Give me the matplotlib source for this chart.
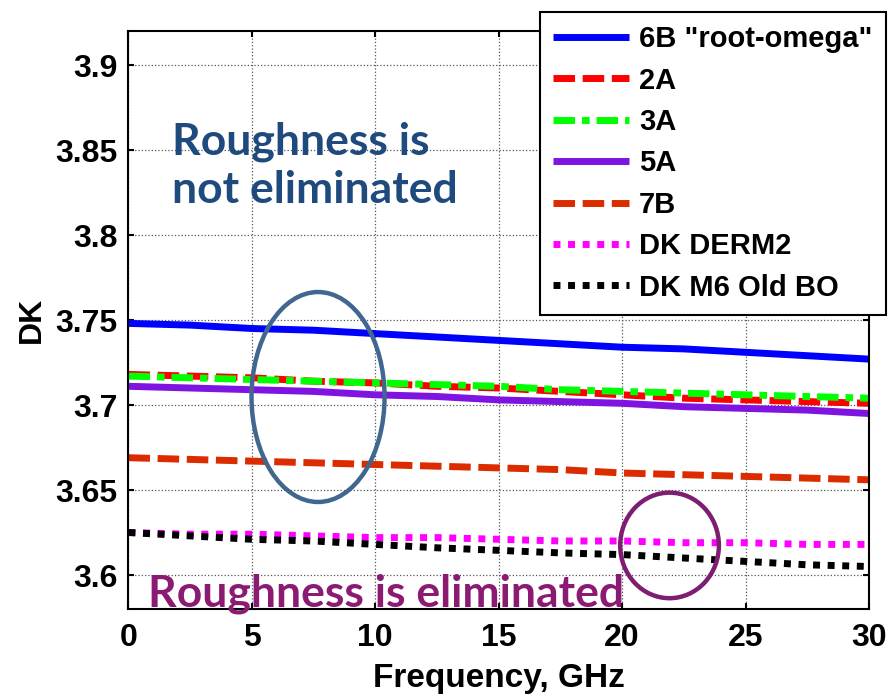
import numpy as np
import matplotlib
matplotlib.use('Agg')
from matplotlib import pyplot as plt
from matplotlib import patches as pth

# frequency, GHz
freq = [0, 2.5, 5, 7.5, 10, 12.5, 15, 17.5, 20, 22.5, 25, 27.5, 30]

dk_6b = [3.748, 3.747, 3.745, 3.744, 3.742, 3.740, 3.738, 3.736, 3.734, 3.733, 3.731, 3.729, 3.727]
dk_2a = [3.718, 3.717, 3.716, 3.714, 3.713, 3.711, 3.710, 3.708, 3.706, 3.704, 3.703, 3.702, 3.701]
dk_3a = [3.717, 3.716, 3.715, 3.714, 3.713, 3.712, 3.711, 3.709, 3.708, 3.707, 3.706, 3.705, 3.704]
dk_5a = [3.711, 3.710, 3.709, 3.708, 3.706, 3.705, 3.703, 3.702, 3.701, 3.699, 3.698, 3.697, 3.695]
dk_7b = [3.669, 3.668, 3.667, 3.666, 3.665, 3.664, 3.663, 3.662, 3.660, 3.659, 3.658, 3.657, 3.656]
dk_derm2 = [3.625, 3.624, 3.624, 3.623, 3.622, 3.622, 3.621, 3.620, 3.620, 3.619, 3.619, 3.618, 3.618]
dk_m6 = [3.625, 3.623, 3.621, 3.620, 3.618, 3.616, 3.6145, 3.613, 3.612, 3.610, 3.608, 3.606, 3.605]

labels = ['6B "root-omega"', '2A', '3A', '5A', '7B', 'DK DERM2', 'DK M6 Old BO']
xticks = [0, 5, 10, 15, 20, 25, 30]
yticks = [3.6, 3.65, 3.7, 3.75, 3.8, 3.85, 3.9]
ytick_labels = ['3.6', '3.65', '3.7', '3.75', '3.8', '3.85', '3.9']

# line styles (dash lengths in units of line width)
dash_long = (3.1, 1.1)
dash_dot = (3.1, 1.0, 1.1, 1.0)
dots = (1.0, 1.1)
series = [
    (dk_6b, '#0000ff', None),
    (dk_2a, '#ff0000', dash_long),
    (dk_3a, '#00ff00', dash_dot),
    (dk_5a, '#7f14e0', None),
    (dk_7b, '#db2c00', dash_long),
    (dk_derm2, '#ff00ff', dots),
    (dk_m6, '#000000', dots),
]

plt.rcParams['font.family'] = ['Liberation Sans', 'DejaVu Sans']
plt.rcParams['font.weight'] = 'bold'

fig = plt.figure(figsize=(8.94, 7.0), dpi=100)
ax = fig.add_axes([0.1437, 0.13, 0.8283, 0.8257])

for (vals, c, d), lab in zip(series, labels):
    ln, = ax.plot(freq, vals, color=c, lw=5, label=lab, solid_capstyle='butt',
                  dash_capstyle='butt')
    if d is not None:
        ln.set_dashes(d)

ax.set_xlim(0, 30)
ax.set_ylim(3.58, 3.92)
ax.set_xticks(xticks)
ax.set_yticks(yticks)
ax.set_xticklabels([str(t) for t in xticks])
ax.set_yticklabels(ytick_labels)
ax.tick_params(direction='in', length=4, width=1.5, top=True, right=True,
               labelsize=23, pad=8)
ax.tick_params(axis='x', pad=10)
ax.grid(True, ls=':', color='#555555', lw=0.9)
for s in ax.spines.values():
    s.set_linewidth(1.5)

ax.set_xlabel('Frequency, GHz', fontsize=24, fontweight='bold', labelpad=7)
ax.set_ylabel('DK', fontsize=23, fontweight='bold', labelpad=6)

# annotations
ax.add_patch(pth.Ellipse((7.68, 3.7047), 5.39, 0.1235, fill=False,
                         ec='#41668f', lw=3.2, zorder=5))
ax.add_patch(pth.Ellipse((21.92, 3.6174), 4.0, 0.0621, fill=False,
                         ec='#7e1e72', lw=3.2, zorder=5))

ax.text(1.75, 3.8475, 'Roughness is', color='#1f4a7e', fontsize=32,
        fontweight='bold', family='Lato', va='baseline', ha='left', zorder=6)
ax.text(1.75, 3.8190, 'not eliminated', color='#1f4a7e', fontsize=32,
        fontweight='bold', family='Lato', va='baseline', ha='left', zorder=6)
ax.text(0.8, 3.5812, 'Roughness is eliminated', color='#8b1a73',
        fontsize=32, fontweight='bold', family='Lato', va='baseline', ha='left',
        zorder=6, clip_on=False)

leg = ax.legend(loc='upper left', bbox_to_anchor=(540 / 894, 1 - 12 / 700),
                bbox_transform=fig.transFigure, fontsize=21, handlelength=2.6,
                handletextpad=0.35, labelspacing=0.46, borderpad=0.45,
                borderaxespad=0, fancybox=False, framealpha=1,
                edgecolor='black')
leg.get_frame().set_linewidth(1.5)
leg.set_zorder(10)

fig.savefig('out.png', dpi=100)
